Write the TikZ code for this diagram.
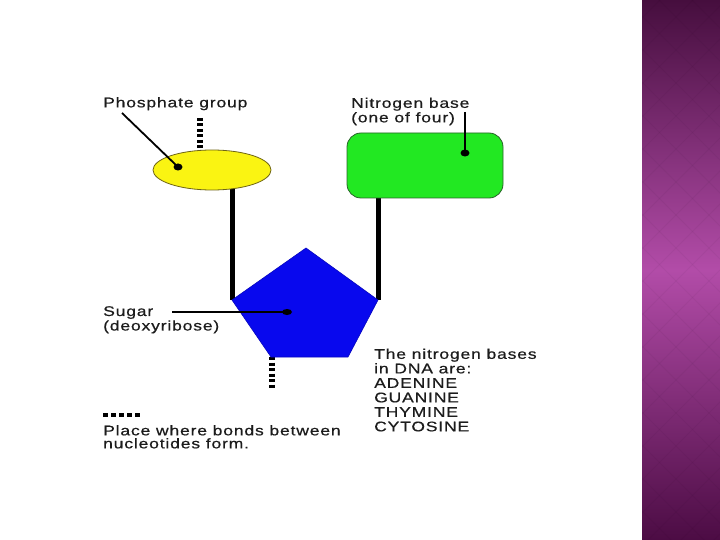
\documentclass[tikz,border=0pt]{standalone}
\usepackage{fontspec}
\newfontfamily\lblfont[FakeStretch=1.25,LetterSpace=6,FakeBold=0.6]{Liberation Sans}
\usepackage{xcolor}
\usepackage{tikz}
\usetikzlibrary{shapes.geometric, backgrounds}

\definecolor{labelgray}{RGB}{28,28,28}
\definecolor{phosyellow}{RGB}{250,244,18}
\definecolor{phosedge}{RGB}{110,100,20}
\definecolor{basegreen}{RGB}{34,232,34}
\definecolor{baseedge}{RGB}{40,100,40}
\definecolor{sugarblue}{RGB}{8,8,238}
\definecolor{bandtop}{RGB}{70,14,62}
\definecolor{bandmid}{RGB}{178,76,168}
\definecolor{bandbot}{RGB}{76,12,68}

\begin{document}
\begin{tikzpicture}[
  x=1pt, y=-1pt,
  lbl/.style={anchor=north west, inner sep=0, align=left, text=labelgray, font=\lblfont\fontsize{14}{14.5}\selectfont},
  bond/.style={line width=5pt},
  bonddash/.style={line width=6pt, dash pattern=on 3pt off 2.5pt},
  keydash/.style={line width=4pt, dash pattern=on 5pt off 3pt},
  pointer/.style={line width=1.8pt},
  dot/.style={ellipse, fill=black, inner sep=0, minimum width=9pt, minimum height=7pt}
]
\useasboundingbox (0,0) rectangle (720,540);

\shade[top color=bandtop, bottom color=bandbot, middle color=bandmid] (642,0) rectangle (720,540);
\begin{scope}
  \clip (642,0) rectangle (720,540);
  \foreach \k in {0,33,...,1320} {
    \draw[black, opacity=0.035, line width=1pt] (642,{642-\k+100}) -- (720,{720-\k+100});
    \draw[black, opacity=0.035, line width=1pt] (642,{\k-642}) -- (720,{\k-720});
  }
\end{scope}

\node[ellipse, draw=phosedge, fill=phosyellow, line width=0.8pt, inner sep=0,
      minimum width=118pt, minimum height=40pt] (phosphate) at (212,170) {};
\node[draw=baseedge, fill=basegreen, line width=0.8pt, rounded corners=14pt, inner sep=0,
      minimum width=156pt, minimum height=65pt] (base) at (425,165.5) {};

\coordinate (sT) at (306,248);
\coordinate (sR) at (378,300);
\coordinate (sBR) at (348,357);
\coordinate (sBL) at (271,357);
\coordinate (sL) at (232,300);
\filldraw[fill=sugarblue, draw=sugarblue!80!black, line width=0.6pt]
  (sT) -- (sR) -- (sBR) -- (sBL) -- (sL) -- cycle;

\node[dot] (phdot) at (178,167) {};
\node[dot] (ndot) at (465,153) {};
\node[dot, minimum width=10pt, minimum height=6pt] (sdot) at (287,312) {};

\node[lbl] (phlabel) at (103,97) {Phosphate group};
\node[lbl] (nlabel) at (351,97.5) {Nitrogen base\\(one of four)};
\node[lbl] (sugarlabel) at (103,306) {Sugar\\(deoxyribose)};
\node[lbl, font=\lblfont\fontsize{14}{13}\selectfont] (keylabel) at (103,425) {Place where bonds between\\nucleotides form.};
\node[lbl] (baseslabel) at (374,348.5) {The nitrogen bases\\in DNA are:\\ADENINE\\GUANINE\\THYMINE\\CYTOSINE};

\coordinate (ptop) at (200,118);
\coordinate (sbot) at (272,388);
\coordinate (keyA) at (103,415);
\coordinate (keyB) at (142,415);
\coordinate (phpin) at (122,113);
\coordinate (npin) at (465,112);
\coordinate (spin) at (172,312);

\begin{scope}[on background layer]
  \draw[bond] (phosphate.center -| sL) -- (sL);
  \draw[bond] (base.center -| sR) -- (sR);
  \draw[bonddash] (ptop) -- (ptop |- phosphate.north);
  \draw[bonddash] (sbot |- sBL) -- (sbot);
\end{scope}
\draw[keydash] (keyA) -- (keyB);

\draw[pointer] (phpin) -- (phdot.center);
\draw[pointer] (npin) -- (ndot.center);
\draw[pointer] (spin) -- (sdot.center);
\end{tikzpicture}
\end{document}
